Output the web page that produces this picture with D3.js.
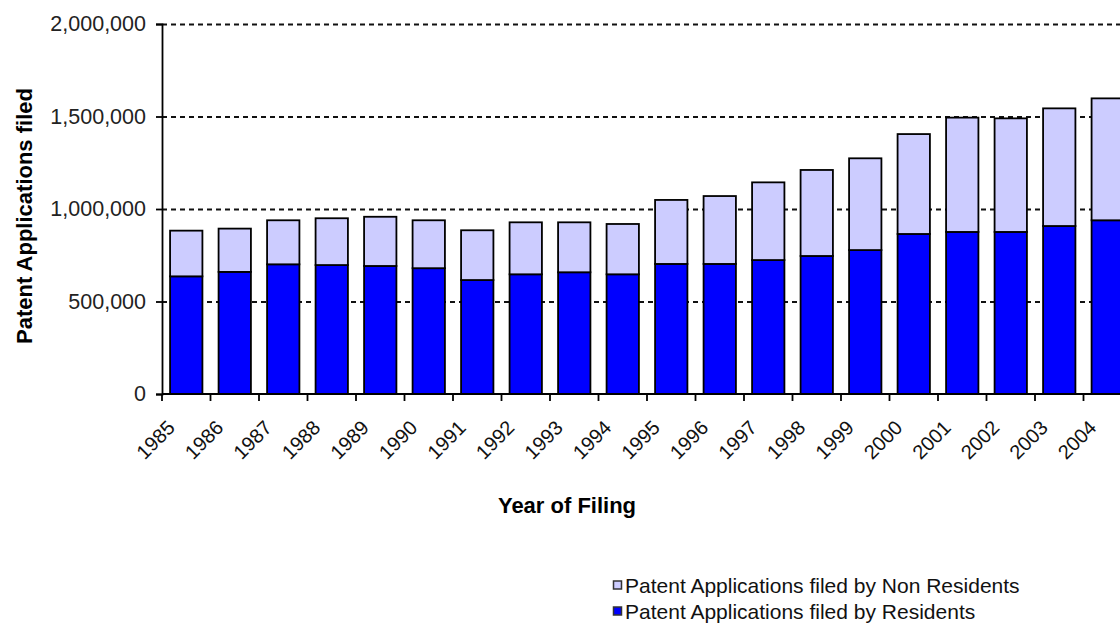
<!DOCTYPE html>
<html>
<head>
<meta charset="utf-8">
<script src="https://cdn.jsdelivr.net/npm/d3@7"></script>
<style>
  body { margin: 0; background: #fff; }
  svg { display: block; font-family: "Liberation Sans", Arial, sans-serif; }
</style>
</head>
<body>
<script>
// values (applications per year)
var years = ["1985","1986","1987","1988","1989","1990","1991","1992","1993","1994",
             "1995","1996","1997","1998","1999","2000","2001","2002","2003","2004"];
var residents = [636000, 660000, 701000, 697000, 692000, 680000, 616000, 647000, 658000, 647000,
                 703000, 703000, 724000, 746000, 778000, 865000, 876000, 876000, 908000, 939000];
var nonResidents = [247000, 234000, 238000, 253000, 266000, 259000, 269000, 281000, 270000, 272000,
                    346000, 367000, 420000, 465000, 496000, 540000, 618000, 614000, 636000, 659000];
var yTicks = [0, 500000, 1000000, 1500000, 2000000];
var seriesNames = ["Patent Applications filed by Non Residents", "Patent Applications filed by Residents"];
var seriesColors = ["#ccccff", "#0000ff"];

var width = 1120, height = 627;
var margin = {left: 162, top: 24};
var plotW = 970, plotH = 370;

var svg = d3.select("body").append("svg")
    .attr("width", width)
    .attr("height", height);

var x = d3.scaleBand()
    .domain(years)
    .range([margin.left, margin.left + plotW])
    .paddingInner(1/3)
    .paddingOuter(1/6);

var y = d3.scaleLinear()
    .domain([0, 2000000])
    .range([margin.top + plotH, margin.top]);

// dashed gridlines
svg.append("g").selectAll("line")
    .data(yTicks.filter(d => d > 0))
    .enter().append("line")
    .attr("x1", margin.left)
    .attr("x2", margin.left + plotW)
    .attr("y1", d => y(d) + 0.5)
    .attr("y2", d => y(d) + 0.5)
    .attr("stroke", "#111")
    .attr("stroke-width", 1.8)
    .attr("stroke-dasharray", "5,4");

// stacked data
var stacked = years.map((yr, i) => ({year: yr, res: residents[i], non: nonResidents[i]}));

var bars = svg.append("g");
bars.selectAll(".res")
    .data(stacked)
    .enter().append("rect")
    .attr("class", "res")
    .attr("x", d => x(d.year))
    .attr("width", x.bandwidth())
    .attr("y", d => y(d.res))
    .attr("height", d => y(0) - y(d.res))
    .attr("fill", seriesColors[1])
    .attr("stroke", "#000")
    .attr("stroke-width", 1.8);

bars.selectAll(".non")
    .data(stacked)
    .enter().append("rect")
    .attr("class", "non")
    .attr("x", d => x(d.year))
    .attr("width", x.bandwidth())
    .attr("y", d => y(d.res + d.non))
    .attr("height", d => y(d.res) - y(d.res + d.non))
    .attr("fill", seriesColors[0])
    .attr("stroke", "#000")
    .attr("stroke-width", 1.8);

// y axis
var yAxis = svg.append("g")
    .attr("transform", "translate(" + margin.left + ",0)")
    .call(d3.axisLeft(y).tickValues(yTicks).tickSize(6).tickPadding(10)
        .tickFormat(d3.format(",")));
yAxis.select(".domain").attr("stroke", "#000").attr("stroke-width", 1.8);
yAxis.selectAll(".tick line").attr("stroke", "#000").attr("stroke-width", 1.8);
yAxis.selectAll("text")
    .attr("fill", "#222")
    .style("font-size", "21.5px");

// x axis: ticks at category boundaries
var step = x.step();
var boundaries = d3.range(years.length + 1).map(i => margin.left + i * step);
svg.append("line")
    .attr("x1", margin.left)
    .attr("x2", margin.left + plotW)
    .attr("y1", y(0))
    .attr("y2", y(0))
    .attr("stroke", "#000")
    .attr("stroke-width", 1.8);
svg.append("g").selectAll("line")
    .data(boundaries)
    .enter().append("line")
    .attr("x1", d => d)
    .attr("x2", d => d)
    .attr("y1", y(0))
    .attr("y2", y(0) + 7)
    .attr("stroke", "#000")
    .attr("stroke-width", 1.8);

svg.append("g").selectAll("text")
    .data(years)
    .enter().append("text")
    .attr("transform", d => "translate(" + (x(d) + x.bandwidth() / 2 - 15) + "," + (y(0) + 30) + ") rotate(-45)")
    .attr("text-anchor", "end")
    .attr("dy", "0.35em")
    .attr("fill", "#111")
    .style("font-size", "20px")
    .text(d => d);

// axis titles
svg.append("text")
    .attr("x", 567)
    .attr("y", 513)
    .attr("text-anchor", "middle")
    .style("font-size", "22px")
    .style("font-weight", "bold")
    .text("Year of Filing");

svg.append("text")
    .attr("transform", "translate(32,216) rotate(-90)")
    .attr("text-anchor", "middle")
    .style("font-size", "22px")
    .style("font-weight", "bold")
    .text("Patent Applications filed");

// legend
var legend = svg.append("g").attr("transform", "translate(613,585)");
var items = legend.selectAll("g")
    .data(seriesNames)
    .enter().append("g")
    .attr("transform", (d, i) => "translate(0," + i * 26 + ")");
items.append("rect")
    .attr("x", 0.5)
    .attr("y", -4)
    .attr("width", 8)
    .attr("height", 8)
    .attr("fill", (d, i) => seriesColors[i])
    .attr("stroke", "#333")
    .attr("stroke-width", 1.5);
items.append("text")
    .attr("x", 12)
    .attr("dy", "0.36em")
    .attr("fill", "#111")
    .style("font-size", "21px")
    .text(d => d);
</script>
</body>
</html>
